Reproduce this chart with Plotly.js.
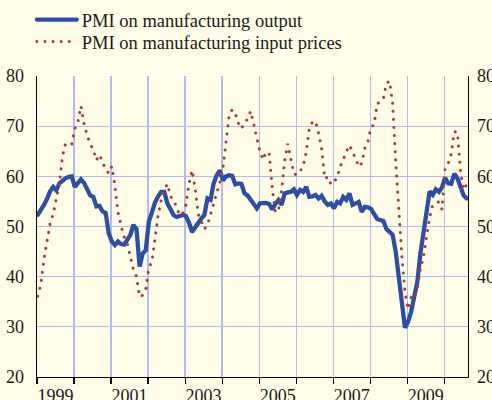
<!DOCTYPE html>
<html>
<head>
<meta charset="utf-8">
<script src="https://cdn.plot.ly/plotly-3.0.1.min.js"></script>
<style>
html,body{margin:0;padding:0;background:#FFFDE8;}
#chart{width:492px;height:400px;}
#chart path.js-line{stroke-linecap:round !important;}
</style>
</head>
<body>
<div id="chart"></div>
<script>
// Monthly data, Jan 1999 - Aug 2010
var startYear = 1999;
var outputPMI = [52.3,53.2,54.3,55.5,57.0,57.9,57.2,58.6,59.2,59.6,59.9,60.0,
57.9,58.6,59.4,58.7,57.3,56.2,55.9,54.0,54.1,53.0,52.7,48.6,
47.0,46.3,47.0,46.5,46.4,47.5,48.3,50.3,49.5,42.0,44.6,45.3,
51.0,52.8,54.8,56.0,56.9,56.9,54.6,53.5,52.3,51.9,52.2,52.3,
52.1,50.8,48.9,49.8,50.9,51.6,52.3,55.6,55.3,58.6,60.2,61.2,
59.2,60.0,60.2,60.1,58.4,58.6,58.5,56.6,56.2,55.3,54.5,53.6,
54.6,54.7,54.7,54.5,53.4,54.5,55.3,54.3,56.6,56.8,56.9,57.4,
56.3,57.3,56.9,57.9,55.9,56.0,56.3,55.6,56.1,55.0,54.3,54.6,
53.6,54.9,54.6,55.9,55.3,56.6,54.3,54.6,54.9,52.9,53.9,53.8,
53.5,52.5,51.5,51.3,51.1,49.5,48.9,48.4,45.0,40.0,36.0,29.8,
31.0,33.0,36.0,38.9,44.6,48.5,52.0,57.0,56.3,57.4,56.9,57.8,
59.7,58.6,58.5,60.5,59.6,58.0,56.2,55.6];
var inputPricesPMI = [36.1,38.5,43.5,47.0,50.6,52.5,55.9,58.5,64.0,66.5,66.3,66.4,
69.5,70.8,74.0,70.5,68.2,66.4,65.3,63.2,64.3,62.7,61.4,60.6,
62.0,58.0,52.8,50.2,47.9,46.6,44.0,41.4,40.0,36.0,36.3,37.5,
41.8,43.0,47.6,52.2,55.2,57.3,58.5,56.0,55.3,53.7,52.2,52.7,
54.3,58.5,61.2,57.5,52.5,51.0,49.5,50.3,52.4,54.2,56.8,58.8,
61.5,66.5,72.0,73.3,72.5,70.6,69.5,70.7,71.4,73.0,70.5,67.8,
65.0,63.3,64.9,64.5,57.5,52.8,53.2,57.0,63.0,66.5,63.8,60.5,
60.3,61.0,62.0,64.8,69.5,70.8,71.0,68.6,65.5,59.5,59.9,58.4,
58.8,59.8,61.9,63.5,64.9,66.2,64.9,63.6,61.9,62.6,65.6,67.0,
69.8,70.3,74.5,74.8,75.5,78.5,79.0,74.5,63.0,52.6,44.0,37.0,
33.5,35.8,35.6,37.5,41.5,44.0,47.5,51.8,54.3,54.7,54.9,53.4,
61.5,62.5,64.5,68.9,68.8,61.0,57.3,58.4];
var yearTicks = [1999,2000,2001,2002,2003,2004,2005,2006,2007,2008,2009,2010];
var yearLabels = ["1999","2001","2003","2005","2007","2009"];
var yTicks = [20,30,40,50,60,70,80];
var seriesNames = ["PMI on manufacturing output","PMI on manufacturing input prices"];

var months = outputPMI.map(function(_, i){ return startYear + (i + 0.25) / 12; });
var labelPos = yearLabels.map(function(s){ return +s + 0.5; });
var xRange = [1999, 2010.64];
var yRange = [20, 80];
var FONT = "Liberation Serif, Times New Roman, serif";
var BG = "#FFFDE8";
var legendFont = {family: FONT, size: 18.5, color: "#1a1a1a"};

var traces = [
  {x: months, y: outputPMI, type: "scatter", mode: "lines", name: seriesNames[0],
   legend: "legend", line: {color: "#2C4EA6", width: 4.3}},
  {x: months, y: inputPricesPMI, type: "scatter", mode: "lines", name: seriesNames[1],
   legend: "legend2", line: {color: "#B23A30", width: 3, dash: "0.1px,8px"}},
  {x: [], y: [], xaxis: "x2", yaxis: "y2", showlegend: false, hoverinfo: "skip"}
];

var layout = {
  width: 492, height: 400,
  margin: {l: 37, r: 24, t: 76, b: 23, autoexpand: false},
  paper_bgcolor: BG, plot_bgcolor: BG,
  font: {family: FONT, size: 18, color: "#1a1a1a"},
  showlegend: true,
  legend: {x: -0.012, xanchor: "left", y: 1.249, yanchor: "top", itemwidth: 40,
           bgcolor: "rgba(0,0,0,0)", font: legendFont},
  legend2: {x: -0.012, xanchor: "left", y: 1.176, yanchor: "top", itemwidth: 40,
           bgcolor: "rgba(0,0,0,0)", font: legendFont},
  xaxis: {range: xRange, tickmode: "array", tickvals: yearTicks,
          ticktext: yearTicks.map(function(){return "";}),
          ticks: "outside", ticklen: 6, tickwidth: 1.2, tickcolor: "#000",
          showgrid: true, gridcolor: "#B3BAEE", gridwidth: 1.3,
          showline: true, linecolor: "#000", linewidth: 1.3, zeroline: false, fixedrange: true},
  xaxis2: {range: xRange, overlaying: "x", side: "bottom", tickmode: "array",
           tickvals: labelPos, ticktext: yearLabels, ticks: "", showgrid: false,
           showline: false, zeroline: false, ticklabelstandoff: 6,
           tickfont: {family: FONT, size: 18, color: "#1a1a1a"}},
  yaxis: {range: yRange, tickmode: "array", tickvals: yTicks, ticks: "",
          showgrid: true, gridcolor: "#B3BAEE", gridwidth: 1.3,
          showline: true, linecolor: "#000", linewidth: 1.3, zeroline: false,
          ticklabelstandoff: 8, tickfont: {family: FONT, size: 18, color: "#1a1a1a"}},
  yaxis2: {range: yRange, overlaying: "y", side: "right", tickmode: "array", tickvals: yTicks,
           ticks: "", showgrid: false, showline: true, linecolor: "#000", linewidth: 1.3,
           zeroline: false, ticklabelstandoff: 4,
           tickfont: {family: FONT, size: 18, color: "#1a1a1a"}}
};

Plotly.newPlot("chart", traces, layout, {staticPlot: true, displayModeBar: false});
</script>
</body>
</html>
